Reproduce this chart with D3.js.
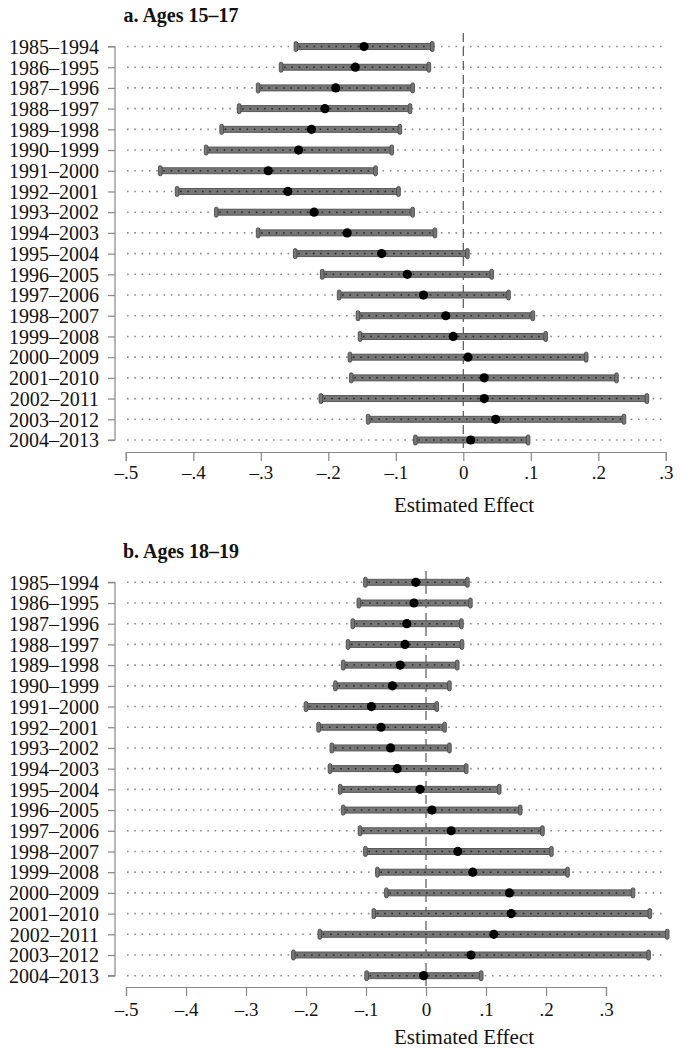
<!DOCTYPE html>
<html>
<head>
<meta charset="utf-8">
<script src="https://cdn.jsdelivr.net/npm/d3@7"></script>
<style>
  html, body { margin: 0; padding: 0; background: #fff; }
  svg { display: block; }
  svg text { font-family: "Liberation Serif", "DejaVu Serif", serif !important; fill: #111; }
</style>
</head>
<body>
<svg id="chart" width="681" height="1050" font-family="Liberation Serif, serif"></svg>
<script>
// ---------------- DATA ----------------
const periods = ["1985–1994","1986–1995","1987–1996","1988–1997","1989–1998","1990–1999",
  "1991–2000","1992–2001","1993–2002","1994–2003","1995–2004","1996–2005","1997–2006",
  "1998–2007","1999–2008","2000–2009","2001–2010","2002–2011","2003–2012","2004–2013"];

// Panel a: Ages 15–17
const estA  = [-0.147,-0.160,-0.189,-0.205,-0.225,-0.244,-0.289,-0.260,-0.221,-0.172,
               -0.121,-0.083,-0.059,-0.026,-0.015, 0.007, 0.031, 0.031, 0.048, 0.011];
const lowA  = [-0.248,-0.270,-0.304,-0.332,-0.358,-0.381,-0.449,-0.424,-0.366,-0.304,
               -0.249,-0.209,-0.184,-0.156,-0.153,-0.168,-0.166,-0.211,-0.141,-0.071];
const highA = [-0.046,-0.051,-0.075,-0.079,-0.094,-0.106,-0.130,-0.096,-0.075,-0.042,
                0.006, 0.042, 0.067, 0.103, 0.122, 0.182, 0.227, 0.272, 0.238, 0.096];

// Panel b: Ages 18–19
const estB  = [-0.017,-0.020,-0.032,-0.035,-0.043,-0.056,-0.091,-0.075,-0.059,-0.048,
               -0.010, 0.010, 0.042, 0.053, 0.078, 0.139, 0.142, 0.113, 0.075,-0.004];
const lowB  = [-0.101,-0.112,-0.122,-0.130,-0.138,-0.151,-0.200,-0.179,-0.157,-0.160,
               -0.143,-0.138,-0.110,-0.101,-0.081,-0.066,-0.087,-0.177,-0.221,-0.099];
const highB = [ 0.069, 0.074, 0.059, 0.060, 0.052, 0.039, 0.018, 0.031, 0.039, 0.067,
                0.122, 0.157, 0.194, 0.209, 0.236, 0.345, 0.373, 0.402, 0.371, 0.092];

const tickValues = [-0.5,-0.4,-0.3,-0.2,-0.1,0,0.1,0.2,0.3];
const tickLabels = ["–.5","–.4","–.3","–.2","–.1","0",".1",".2",".3"];
const titles = ["a. Ages 15–17", "b. Ages 18–19"];
const xTitle = "Estimated Effect";

// ---------------- DRAW ----------------
const FONT = '"Liberation Serif", "DejaVu Serif", serif';
const svg = d3.select("#chart");

function panel(cfg) {
  const { title, est, low, high, xRange, rowTop, rowBottom, titleY, gridX, axisY, tickLabelY, xTitleY, zeroTop } = cfg;
  const g = svg.append("g");
  const x = d3.scaleLinear().domain([-0.5, 0.3]).range(xRange);
  const y = d3.scalePoint().domain(periods).range([rowTop, rowBottom]);

  // title
  g.append("text").attr("x", 181).attr("y", titleY)
    .attr("text-anchor", "middle").style("font-size", "20px").style("font-weight", "bold")
    .style("font-family", FONT)
    .text(title);

  // y axis
  const yAxis = d3.axisLeft(y).tickSize(7).tickPadding(9);
  const ya = g.append("g").attr("transform", "translate(115,0)").call(yAxis)
    .attr("font-family", null).attr("font-size", null);
  ya.select(".domain").attr("d", `M-7,${rowTop}H0V${rowBottom}H-7`).attr("stroke", "#888").attr("stroke-width", 1.2).attr("fill", "none");
  ya.selectAll(".tick line").attr("stroke", "#888").attr("stroke-width", 1.2);
  ya.selectAll(".tick text").style("font-size", "20px").attr("fill", "#111")
    .style("font-family", FONT).attr("dy", "0.34em");

  // dotted grid lines
  g.append("g").selectAll("line").data(periods).join("line")
    .attr("x1", gridX[0]).attr("x2", gridX[1])
    .attr("y1", d => y(d)).attr("y2", d => y(d))
    .attr("stroke", "#8a8a8a").attr("stroke-width", 1.6)
    .attr("stroke-dasharray", "1.6,5.7");

  // zero line
  g.append("line").attr("x1", x(0)).attr("x2", x(0))
    .attr("y1", zeroTop).attr("y2", axisY)
    .attr("stroke", "#555").attr("stroke-width", 1.2)
    .attr("stroke-dasharray", "9,5");

  const rows = periods.map((p, i) => ({ p, e: est[i], lo: low[i], hi: high[i] }));
  const bars = g.append("g");
  bars.selectAll("rect.bar").data(rows).join("rect").attr("class", "bar")
    .attr("x", d => x(d.lo)).attr("width", d => x(d.hi) - x(d.lo))
    .attr("y", d => y(d.p) - 3).attr("height", 6)
    .attr("fill", "#767676").attr("stroke", "#505050").attr("stroke-width", 0.9);
  bars.selectAll("line.in").data(rows).join("line").attr("class", "in")
    .attr("x1", d => x(d.lo) + 3).attr("x2", d => x(d.hi) - 3)
    .attr("y1", d => y(d.p)).attr("y2", d => y(d.p))
    .attr("stroke", "#2a2a2a").attr("stroke-width", 1.5)
    .attr("stroke-dasharray", "1.6,5.7");
  const caps = rows.flatMap(d => [{ p: d.p, v: d.lo }, { p: d.p, v: d.hi }]);
  bars.selectAll("rect.cap").data(caps).join("rect").attr("class", "cap")
    .attr("x", d => x(d.v) - 1.8).attr("width", 3.6)
    .attr("y", d => y(d.p) - 5).attr("height", 10).attr("rx", 1.6)
    .attr("fill", "#767676").attr("stroke", "#4a4a4a").attr("stroke-width", 0.9);
  bars.selectAll("circle").data(rows).join("circle")
    .attr("cx", d => x(d.e)).attr("cy", d => y(d.p)).attr("r", 4.6)
    .attr("fill", "#000");

  // x axis
  const xAxis = d3.axisBottom(x).tickValues(tickValues).tickSize(9).tickPadding(5)
    .tickFormat((d, i) => tickLabels[i]);
  const xa = g.append("g").attr("transform", `translate(0,${axisY})`).call(xAxis)
    .attr("font-family", null).attr("font-size", null);
  xa.select(".domain").attr("stroke", "#888").attr("stroke-width", 1.2);
  xa.selectAll(".tick line").attr("stroke", "#888").attr("stroke-width", 1.2);
  xa.selectAll(".tick text").style("font-size", "19px").attr("fill", "#111")
    .style("font-family", FONT)
    .attr("y", tickLabelY - axisY).attr("dy", "0.35em");

  g.append("text").attr("x", 464).attr("y", xTitleY).attr("dy", "0.35em")
    .attr("text-anchor", "middle").style("font-size", "21px").style("font-family", FONT)
    .text(xTitle);
}

panel({ title: titles[0], est: estA, low: lowA, high: highA,
  xRange: [125.8, 665.8], rowTop: 46.5, rowBottom: 440, titleY: 22,
  gridX: [127, 662], axisY: 452, tickLabelY: 472, xTitleY: 505, zeroTop: 33 });

panel({ title: titles[1], est: estB, low: lowB, high: highB,
  xRange: [126, 606], rowTop: 582.3, rowBottom: 975.7, titleY: 558,
  gridX: [127, 662], axisY: 987, tickLabelY: 1009, xTitleY: 1037, zeroTop: 571 });
</script>
</body>
</html>
